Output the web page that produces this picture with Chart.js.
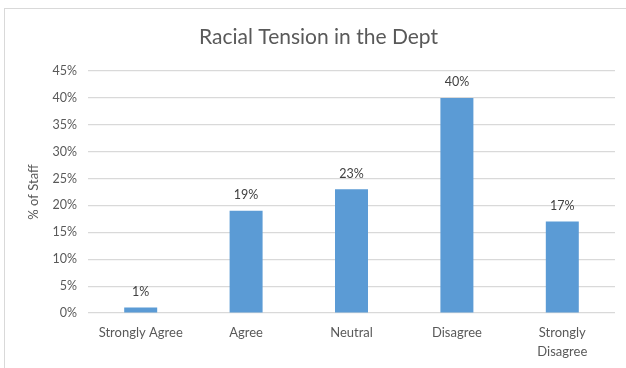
<!DOCTYPE html>
<html>
<head>
<meta charset="utf-8">
<script src="https://cdn.jsdelivr.net/npm/chart.js@4.4.1/dist/chart.umd.min.js"></script>
<style>
  html, body { margin: 0; padding: 0; background: #ffffff; }
  #wrap { position: relative; width: 626px; height: 368px; overflow: hidden; }
  #frame { position: absolute; left: 4px; top: 8px; width: 700px; height: 420px;
           border: 1.5px solid #d9d9d9; box-sizing: border-box; }
  #c { position: absolute; left: 0; top: 0; }
</style>
</head>
<body>
<div id="wrap">
  <div id="frame"></div>
  <canvas id="c" width="626" height="368"></canvas>
</div>
<script>
// Survey answers: share of staff per response
const categories = ["Strongly Agree", "Agree", "Neutral", "Disagree", ["Strongly", "Disagree"]];
const staffPercent = [1, 19, 23, 40, 17];
const yTicks = [0, 5, 10, 15, 20, 25, 30, 35, 40, 45];

const FONT = "Lato, 'Open Sans', sans-serif";
const TEXT = "#595959";

// Writes each bar's percentage just above it
const valueLabels = {
  id: "valueLabels",
  afterDatasetsDraw(chart) {
    const ctx = chart.ctx;
    const meta = chart.getDatasetMeta(0);
    ctx.save();
    ctx.font = "12.5px " + FONT;
    ctx.fillStyle = "#404040";
    ctx.textAlign = "center";
    ctx.textBaseline = "middle";
    meta.data.forEach((bar, i) => {
      ctx.fillText(staffPercent[i] + "%", bar.x, bar.y - 15.5);
    });
    ctx.restore();
  }
};

new Chart(document.getElementById("c"), {
  type: "bar",
  data: {
    labels: categories,
    datasets: [{
      data: staffPercent,
      backgroundColor: "#5b9bd5",
      borderWidth: 0,
      categoryPercentage: 1,
      barPercentage: 0.313
    }]
  },
  options: {
    responsive: false,
    animation: false,
    events: [],
    layout: { padding: { left: 22, right: 11, top: 0, bottom: 0 } },
    plugins: {
      legend: { display: false },
      tooltip: { enabled: false },
      title: {
        display: true,
        text: "Racial Tension in the Dept",
        color: TEXT,
        font: { family: FONT, size: 21, weight: "normal", lineHeight: 1.2 },
        padding: { top: 24.4, bottom: 21.4 }
      }
    },
    scales: {
      x: {
        grid: { display: false, drawTicks: false },
        border: { display: false },
        ticks: {
          color: TEXT,
          font: { family: FONT, size: 13, lineHeight: 1.46 },
          padding: 10.5,
          maxRotation: 0,
          autoSkip: false
        },
        afterFit(scale) { scale.height = 55; }
      },
      y: {
        min: 0,
        max: 45,
        afterBuildTicks(scale) { scale.ticks = yTicks.map(v => ({ value: v })); },
        grid: { color: "#d9d9d9", lineWidth: 1.2, drawTicks: false },
        border: { display: false },
        ticks: {
          color: TEXT,
          font: { family: FONT, size: 12.5 },
          padding: 11,
          callback: v => v + "%"
        },
        title: {
          display: true,
          text: "% of Staff",
          color: TEXT,
          font: { family: FONT, size: 13, lineHeight: 1.2 },
          padding: { top: 4.2, bottom: 0 }
        },
        afterFit(scale) { scale.width = 66; }
      }
    }
  },
  plugins: [valueLabels]
});
</script>
</body>
</html>
